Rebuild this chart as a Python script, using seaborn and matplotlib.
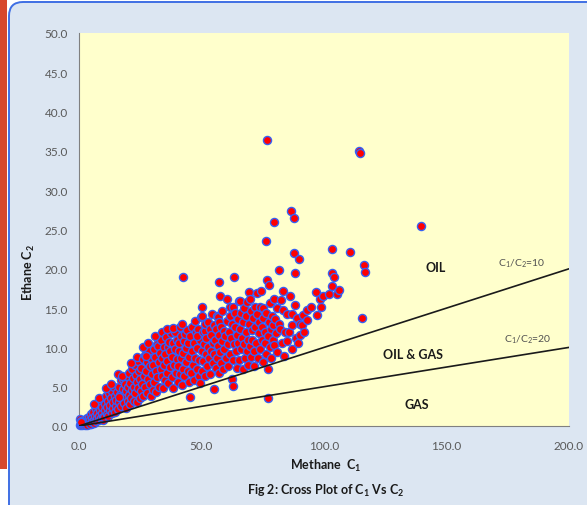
import matplotlib
matplotlib.use("Agg")
import matplotlib.pyplot as plt
from matplotlib.patches import FancyBboxPatch, Rectangle
from matplotlib.transforms import IdentityTransform
import numpy as np
import pandas as pd
import seaborn as sns

# ---------------- data ----------------
methane_c1 = [
    0.3, 0.5, 0.8, 1.0, 1.2, 1.5, 1.7, 2.0, 2.2, 2.5, 2.8, 3.0, 3.2, 3.5, 3.8, 4.0, 4.2, 4.5, 4.8, 5.0, 1.0, 2.3, 3.3, 4.4, 0.7,
    5.3, 5.5, 5.8, 6.0, 6.3, 6.5, 6.8, 7.0, 7.3, 7.5, 7.8, 8.0, 8.3, 8.5, 8.8, 9.0, 9.3, 9.5, 9.8, 10.0, 6.2, 8.1, 9.6,
    10.3, 10.5, 10.8, 11.0, 11.3, 11.5, 11.8, 12.0, 12.4, 12.5, 12.8, 13.0, 13.3, 13.5, 13.8, 14.0, 14.3, 14.5, 14.8, 15.0, 11.2, 13.2,
    15.3, 15.5, 15.8, 16.0, 16.3, 16.5, 16.8, 17.0, 17.3, 17.5, 17.8, 18.0, 18.3, 18.5, 18.8, 19.0, 19.5, 19.8, 20.0, 16.2, 17.6, 19.2,
    20.3, 20.5, 20.8, 21.0, 21.3, 21.5, 21.8, 22.0, 22.3, 22.5, 22.8, 23.0, 23.3, 23.5, 23.8, 24.2, 24.0, 24.5, 24.8, 25.0, 21.2, 23.6,
    25.3, 25.5, 25.8, 26.0, 26.3, 26.5, 26.8, 27.0, 27.3, 27.6, 27.9, 28.2, 28.5, 28.8, 29.0, 29.3, 29.5, 29.8, 30.0, 27.2, 26.0, 28.0,
    30.3, 30.5, 30.8, 31.0, 31.3, 31.5, 31.8, 32.0, 32.4, 32.5, 32.8, 33.0, 33.3, 33.5, 33.8, 34.0, 34.3, 34.5, 34.8, 35.0, 31.2, 34.0,
    35.3, 35.5, 35.8, 36.0, 36.3, 36.9, 36.5, 37.0, 37.3, 37.5, 37.8, 38.0, 38.3, 38.5, 38.8, 39.0, 39.3, 39.5, 39.8, 40.0, 36.0, 38.5,
    40.3, 40.5, 40.8, 41.2, 41.0, 41.3, 41.5, 41.8, 42.0, 42.3, 42.5, 42.8, 43.3, 43.0, 43.5, 43.8, 44.0, 44.3, 44.5, 44.8, 45.0, 45.3, 42.0,
    45.5, 45.8, 46.0, 46.3, 46.5, 46.8, 47.0, 47.3, 47.8, 47.5, 48.0, 48.3, 48.5, 48.8, 49.0, 49.3, 49.7, 49.5, 50.0, 50.1, 50.3, 48.0,
    50.3, 50.5, 50.8, 51.0, 51.4, 51.3, 51.5, 51.8, 52.0, 52.3, 52.8, 52.5, 53.0, 53.3, 53.5, 53.8, 54.0, 54.3, 54.5, 54.8, 55.1, 55.0,
    55.3, 55.5, 55.8, 56.2, 56.0, 56.6, 56.3, 56.8, 57.1, 57.0, 57.3, 57.6, 57.5, 57.8, 58.0, 58.3, 58.5, 58.8, 59.2, 59.0, 59.5, 60.0, 60.3,
    60.5, 60.8, 61.0, 61.3, 61.6, 61.6, 61.8, 62.0, 62.3, 62.7, 62.5, 63.0, 62.8, 63.2, 63.5, 63.8, 64.0, 64.3, 64.5, 64.8, 65.0, 65.4, 63.3,
    65.3, 65.7, 65.8, 66.0, 66.3, 66.5, 66.8, 67.0, 67.3, 67.5, 67.8, 68.0, 68.4, 68.3, 68.5, 68.8, 69.0, 69.3, 69.5, 69.7, 69.8, 70.0,
    70.3, 70.5, 70.8, 71.0, 71.3, 71.8, 71.5, 72.0, 72.5, 72.3, 72.8, 73.0, 73.3, 73.5, 73.8, 74.3, 74.0, 74.5, 74.8, 75.2, 75.0, 75.3,
    75.8, 76.0, 76.3, 76.5, 76.9, 77.4, 77.0, 77.3, 77.5, 77.8, 78.0, 78.3, 78.5, 78.8, 79.0, 79.2, 79.7, 79.5, 80.0, 77.3,
    80.3, 80.8, 81.0, 81.5, 81.5, 82.0, 82.3, 82.8, 83.4, 83.4, 83.7, 84.0, 84.8, 85.0, 85.7, 86.0, 86.8, 86.9, 87.1, 88.0, 88.2, 88.5, 89.0, 89.5,
    90.2, 90.2, 91.0, 91.4, 92.0, 93.2, 93.2, 94.7, 96.6, 97.0, 98.2, 98.8, 99.5,
    102.0, 103.3, 103.4, 104.1, 105.2, 106.1, 103.4, 110.5, 116.4, 116.7, 115.4,
    76.6, 114.3, 114.7, 139.6, 86.5, 87.6, 79.5, 76.3, 87.9, 89.7, 42.4, 57.0,
]
ethane_c2 = [
    0.1, 0.9, 0.2, 0.3, 0.1, 0.5, 0.2, 0.4, 0.8, 0.3, 0.2, 0.6, 1.0, 0.3, 0.5, 1.2, 0.4, 0.7, 1.5, 0.3, 0.6, 0.1, 0.15, 0.25, 0.5,
    1.0, 0.5, 1.8, 0.8, 0.4, 1.3, 2.2, 0.6, 1.0, 1.7, 2.6, 0.7, 1.3, 2.0, 3.0, 1.0, 1.6, 2.4, 0.8, 3.3, 2.8, 3.5, 1.2,
    1.2, 2.0, 2.8, 3.8, 1.5, 2.4, 3.2, 1.3, 4.2, 2.0, 2.7, 3.5, 1.6, 4.5, 2.3, 3.0, 5.0, 1.8, 3.8, 2.5, 4.8, 5.3,
    3.3, 4.3, 6.6, 2.2, 5.0, 3.0, 4.0, 5.8, 2.5, 3.6, 4.7, 6.0, 2.9, 3.9, 5.3, 4.5, 6.3, 3.2, 5.0, 3.7, 6.4, 2.3,
    4.0, 6.8, 2.8, 5.5, 3.6, 7.3, 4.6, 6.1, 3.2, 5.0, 7.8, 4.2, 6.5, 3.0, 5.6, 8.3, 4.8, 7.0, 3.6, 6.0, 8.0, 8.8,
    4.5, 7.4, 5.3, 8.5, 3.8, 6.4, 9.0, 5.0, 7.0, 8.1, 4.2, 6.0, 9.5, 7.6, 5.3, 3.8, 8.6, 6.6, 4.6, 8.9, 10.0, 10.5,
    7.8, 9.8, 5.6, 8.8, 4.3, 7.0, 10.4, 6.2, 10.2, 8.2, 5.0, 9.3, 7.3, 11.0, 6.3, 8.7, 4.8, 10.0, 7.7, 5.8, 11.5, 12.0,
    9.2, 11.3, 6.8, 8.3, 10.1, 10.7, 5.5, 7.5, 9.6, 11.8, 6.2, 8.8, 10.6, 4.8, 7.8, 9.8, 12.0, 6.8, 8.5, 11.0, 12.3, 12.5,
    5.6, 7.6, 9.6, 12.6, 10.5, 6.6, 8.6, 11.4, 5.2, 7.3, 9.3, 10.8, 11.7, 6.3, 8.1, 9.9, 12.2, 7.0, 10.6, 5.6, 8.8, 3.7, 13.0,
    11.4, 6.8, 9.6, 12.6, 7.8, 10.6, 5.9, 8.7, 11.9, 13.3, 7.2, 9.9, 12.3, 6.4, 8.4, 10.9, 13.9, 5.5, 9.5, 15.1, 14.0, 11.5,
    7.0, 11.9, 8.3, 10.4, 12.1, 6.4, 13.0, 9.2, 11.2, 7.6, 13.2, 10.0, 8.6, 12.4, 6.6, 9.6, 11.6, 14.3, 8.0, 10.6, 4.7, 12.9,
    9.2, 11.0, 7.4, 14.0, 12.3, 13.9, 8.6, 10.2, 13.2, 6.8, 11.6, 16.6, 9.4, 12.6, 8.0, 10.8, 14.6, 7.2, 12.1, 9.8, 11.4, 8.6, 16.2,
    13.4, 10.4, 7.6, 12.0, 15.2, 14.0, 9.2, 11.2, 6.0, 15.2, 13.0, 5.1, 8.4, 10.4, 12.6, 14.4, 9.6, 11.6, 7.4, 13.6, 10.6, 15.9, 19.0,
    8.4, 15.9, 12.4, 14.4, 9.8, 11.2, 7.2, 13.2, 10.4, 15.0, 8.6, 12.0, 15.8, 14.0, 9.6, 11.0, 7.8, 13.0, 17.0, 16.2, 10.2, 14.6,
    8.8, 12.2, 11.0, 13.8, 9.6, 15.2, 7.6, 12.6, 16.9, 10.6, 14.2, 8.6, 11.8, 13.2, 9.8, 17.2, 15.2, 11.0, 12.6, 15.0, 8.2, 13.8,
    10.6, 12.0, 9.2, 14.4, 18.6, 18.0, 11.4, 7.3, 13.2, 10.0, 15.6, 12.4, 8.6, 14.0, 11.0, 12.8, 10.3, 16.2, 13.6, 3.6,
    11.8, 15.0, 9.4, 19.9, 13.0, 12.3, 16.0, 10.6, 17.2, 14.8, 8.9, 12.0, 14.2, 10.8, 11.9, 16.6, 14.2, 9.8, 12.9, 15.4, 19.5, 11.2, 13.8, 10.5,
    11.6, 13.0, 12.9, 14.1, 12.0, 14.7, 13.5, 15.1, 17.0, 14.1, 16.1, 15.1, 16.5,
    16.8, 17.8, 19.5, 19.0, 16.8, 17.3, 22.5, 22.1, 20.5, 19.6, 13.7,
    36.4, 34.95, 34.7, 25.4, 27.4, 26.4, 26.0, 23.5, 22.0, 21.2, 19.0, 18.3,
]
x_ticks = [0, 50, 100, 150, 200]
y_ticks = [0, 5, 10, 15, 20, 25, 30, 35, 40, 45, 50]
ratio_lines = [10, 20]
ratio_labels = ["C$_1$/C$_2$=10", "C$_1$/C$_2$=20"]
zone_labels = ["OIL", "OIL & GAS", "GAS"]

df = pd.DataFrame({"C1": methane_c1, "C2": ethane_c2})

# ---------------- style ----------------
sns.set_theme(style="white")
plt.rcParams["font.family"] = ["Lato", "DejaVu Sans"]
plt.rcParams["mathtext.fontset"] = "custom"
plt.rcParams["mathtext.rm"] = "Lato"
plt.rcParams["mathtext.it"] = "Lato"
plt.rcParams["mathtext.bf"] = "Lato:bold"

W, H = 587, 506
fig = plt.figure(figsize=(W / 100, H / 100), dpi=100)
fig.patch.set_facecolor("white")

# left red strip and blue rounded panel (pixel coordinates)
fig.patches.append(Rectangle((0, 36), 7, H - 36, transform=IdentityTransform(),
                             facecolor="#d7482c", edgecolor="none", zorder=-2))
fig.patches.append(FancyBboxPatch((9, -20), 620, H - 3 + 20,
                                  boxstyle="round,pad=0,rounding_size=14",
                                  transform=IdentityTransform(),
                                  facecolor="#dce6f2", edgecolor="#3f6fe4",
                                  linewidth=1.4, zorder=-1))

ax = fig.add_axes([79 / W, (H - 427) / H, (569 - 79) / W, (427 - 34) / H])
ax.set_zorder(2)
ax.set_facecolor("#ffffcc")

sns.scatterplot(data=df, x="C1", y="C2", ax=ax, color="#ff0000",
                edgecolor="#3560f5", linewidth=1.0, s=34, zorder=3, legend=False,
                clip_on=False)

xs = np.array([0, 200])
for r in ratio_lines:
    ax.plot(xs, xs / r, color="#1a1a1a", lw=1.2, zorder=4)

ax.set_xlim(0, 200)
ax.set_ylim(0, 50)
ax.set_xticks(x_ticks)
ax.set_yticks(y_ticks)
ax.set_xticklabels([f"{v:.1f}" for v in x_ticks])
ax.set_yticklabels([f"{v:.1f}" for v in y_ticks])
ax.tick_params(axis="both", colors="#808080", labelcolor="#595959",
               labelsize=8.5, length=4, width=0.8, direction="out")
ax.tick_params(axis="x", pad=6)
ax.tick_params(axis="y", pad=4)
for side in ["top", "right"]:
    ax.spines[side].set_visible(False)
for side in ["left", "bottom"]:
    ax.spines[side].set_color("#808080")
    ax.spines[side].set_linewidth(0.8)
ax.set_xlabel("")
ax.set_ylabel("")

# zone labels
ax.text(145.7, 20.2, zone_labels[0], fontsize=9, fontweight="bold", color="#1a1a1a", ha="center", va="center", zorder=5)
ax.text(136.3, 9.2, zone_labels[1], fontsize=9, fontweight="bold", color="#1a1a1a", ha="center", va="center", zorder=5)
ax.text(138.0, 2.8, zone_labels[2], fontsize=9, fontweight="bold", color="#1a1a1a", ha="center", va="center", zorder=5)
ax.text(180.5, 20.0, ratio_labels[0], fontsize=7.5, color="#505050", ha="center", va="bottom", zorder=5)
ax.text(183.0, 10.3, ratio_labels[1], fontsize=7.5, color="#505050", ha="center", va="bottom", zorder=5)

# axis titles and caption
fig.text(28.5 / W, 1 - 272 / H, r"Ethane C$_\mathbf{2}$", rotation=90, fontsize=9,
         fontweight="bold", color="#1a1a1a", ha="center", va="center")
fig.text(326 / W, 1 - 466 / H, r"Methane  C$_\mathbf{1}$", fontsize=9,
         fontweight="bold", color="#1a1a1a", ha="center", va="center")
fig.text(326 / W, 1 - 491 / H, r"Fig 2: Cross Plot of C$_\mathbf{1}$ Vs C$_\mathbf{2}$", fontsize=9,
         fontweight="bold", color="#1a1a1a", ha="center", va="center")

fig.savefig("out.png", dpi=100, facecolor=fig.get_facecolor())
